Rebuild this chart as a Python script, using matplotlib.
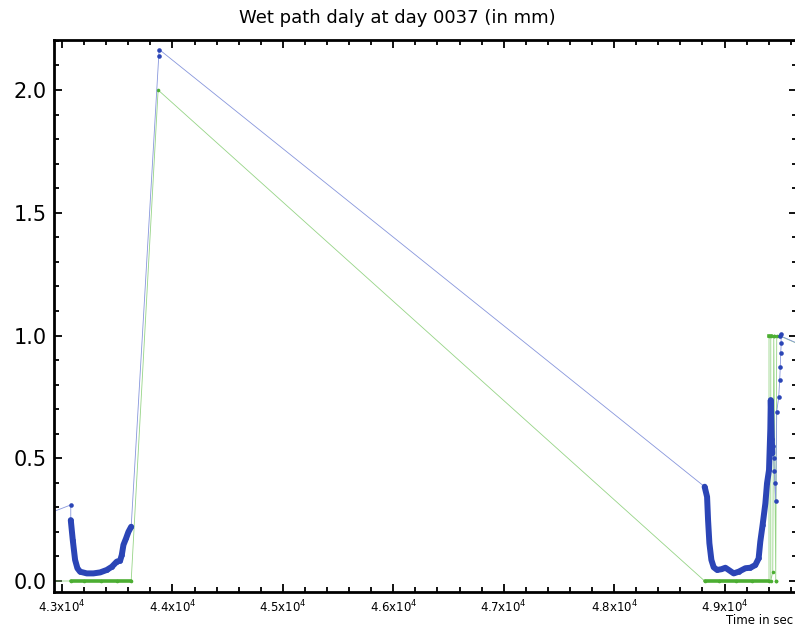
import matplotlib
matplotlib.use("Agg")
import matplotlib.pyplot as plt
from matplotlib.ticker import MultipleLocator, FixedLocator

# time (s) and wet path delay (mm)
blue_t = [42850, 43079, 43079, 43097, 43118, 43139, 43163, 43224, 43284, 43345, 43405,
          43451, 43496, 43526, 43541, 43556, 43580, 43601, 43626,
          43876, 43880,
          48820, 48842, 48851, 48863, 48881, 48902, 48933, 48972, 49008, 49038, 49083,
          49129, 49189, 49234, 49279, 49309, 49324, 49345, 49370, 49385, 49403,
          49410, 49415, 49419, 49424, 49428, 49433, 49442, 49446, 49451, 49455, 49464,
          49473, 49491, 49500, 49505, 49509, 49514, 49509, 49500, 49800]
blue_v = [0.27, 0.31, 0.248, 0.167, 0.086, 0.052, 0.038, 0.031, 0.031, 0.035, 0.045,
          0.058, 0.079, 0.083, 0.106, 0.147, 0.174, 0.200, 0.221,
          2.14, 2.165,
          0.384, 0.343, 0.248, 0.154, 0.086, 0.056, 0.045, 0.048, 0.054, 0.045, 0.031,
          0.038, 0.052, 0.054, 0.065, 0.092, 0.160, 0.228, 0.316, 0.398, 0.452,
          0.55, 0.62, 0.737, 0.66, 0.58, 0.52, 0.55, 0.50, 0.45, 0.40, 0.327,
          0.69, 0.75, 0.82, 0.87, 0.93, 0.97, 1.006, 1.0, 0.94]

green_t = [42850, 43079, 43200, 43350, 43500, 43626,
           43870,
           48820, 48950, 49100, 49250, 49403,
           49403, 49419, 49419, 49437, 49446, 49446, 49464, 49464, 49473, 49491, 49800]
green_v = [0.0, 0.0, 0.0, 0.0, 0.0, 0.0,
           2.0,
           0.0, 0.0, 0.0, 0.0, 0.0,
           1.0, 1.0, 0.0, 0.038, 1.0, 1.0, 0.0, 0.0, 1.0, 1.0, 0.94]

xticks = [43000, 44000, 45000, 46000, 47000, 48000, 49000]
xlabels = ["4.3x10$^4$", "4.4x10$^4$", "4.5x10$^4$", "4.6x10$^4$",
           "4.7x10$^4$", "4.8x10$^4$", "4.9x10$^4$"]

blue = "#2b45b6"
green = "#4cae32"
blue_thin = "#8796dc"
green_thin = "#96d486"

fig = plt.figure(figsize=(7.95, 6.28), dpi=100)
ax = fig.add_axes([54 / 795, 1 - 592 / 628, 1.003 - 54 / 795, (592 - 40) / 628])

# thin connecting lines + dots
ax.plot(green_t, green_v, color=green_thin, lw=0.6)
ax.plot(green_t, green_v, ls="none", marker="o", ms=2.6, mfc=green, mec="none")
ax.plot(blue_t, blue_v, color=blue_thin, lw=0.6)
ax.plot(blue_t, blue_v, ls="none", marker="o", ms=3.3, mfc=blue, mec="none")

# dense stretches look like thick strokes
ax.plot(green_t[1:6], green_v[1:6], color=green, lw=2.6, solid_capstyle="round")
ax.plot(green_t[7:12], green_v[7:12], color=green, lw=2.6, solid_capstyle="round")
ax.plot(green_t[12:14], green_v[12:14], color=green, lw=2.6)
ax.plot(blue_t[2:19], blue_v[2:19], color=blue, lw=4.3, solid_capstyle="round")
ax.plot(blue_t[21:48], blue_v[21:48], color=blue, lw=4.3, solid_capstyle="round")

ax.set_xlim(42927, 49660)
ax.set_ylim(-0.0448, 2.2037)

ax.xaxis.set_major_locator(FixedLocator(xticks))
ax.set_xticklabels(xlabels)
ax.xaxis.set_minor_locator(MultipleLocator(200))
ax.yaxis.set_major_locator(MultipleLocator(0.5))
ax.yaxis.set_minor_locator(MultipleLocator(0.1))
ax.yaxis.set_major_formatter(plt.FormatStrFormatter("%.1f"))

ax.tick_params(which="both", direction="in", top=True, right=True, width=1.3)
ax.tick_params(which="major", length=6)
ax.tick_params(which="minor", length=3.5)
ax.tick_params(axis="y", labelsize=15, pad=5)
ax.tick_params(axis="x", labelsize=8.5, pad=5)
for s in ax.spines.values():
    s.set_linewidth(2)

fig.text(793 / 795, 1 - 621 / 628, "Time in sec", fontsize=8.5, ha="right", va="center")
fig.text(0.5, 1 - 18 / 628, "Wet path daly at day 0037 (in mm)", fontsize=13,
         ha="center", va="center")

plt.savefig("out.png", dpi=100)
